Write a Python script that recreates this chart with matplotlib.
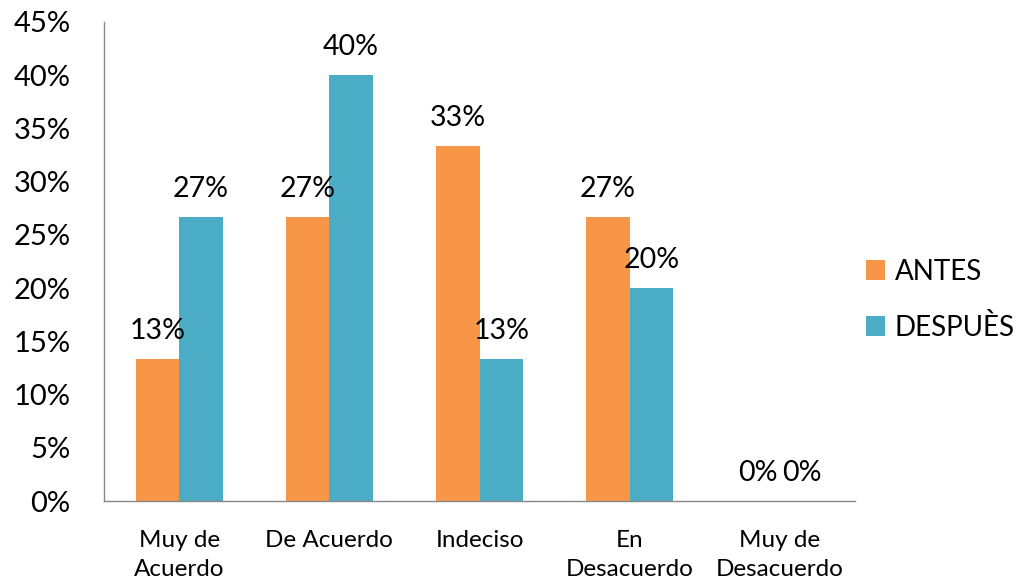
import numpy as np
import matplotlib.pyplot as plt

plt.rcParams['font.family'] = ['Lato', 'DejaVu Sans']

# Datos
categorias = ['Muy de\nAcuerdo', 'De Acuerdo', 'Indeciso', 'En\nDesacuerdo', 'Muy de\nDesacuerdo']
antes = [13.33, 26.67, 33.33, 26.67, 0.0]
despues = [26.67, 40.0, 13.33, 20.0, 0.0]
series = ['ANTES', 'DESPUÈS']
colores = ['#F79646', '#4BACC6']

fig = plt.figure(figsize=(10.34, 5.88), dpi=100)
ax = fig.add_axes([104 / 1034, 87 / 588, 751 / 1034, 479 / 588])

x = np.arange(len(categorias))
w = 0.29
b1 = ax.bar(x - w / 2, antes, w, color=colores[0], label=series[0])
b2 = ax.bar(x + w / 2, despues, w, color=colores[1], label=series[1])

# Etiquetas de datos
for barras, vals in [(b1, antes), (b2, despues)]:
    for b, v in zip(barras, vals):
        ax.annotate(f'{v:.0f}%', (b.get_x() + b.get_width() / 2, v),
                    xytext=(0, 11), textcoords='offset points',
                    ha='center', va='bottom', fontsize=20.5)

ax.set_xlim(-0.5, len(categorias) - 0.5)
ax.set_ylim(0, 45)
ax.set_yticks(np.arange(0, 46, 5))
ax.set_yticklabels([f'{t}%' for t in range(0, 46, 5)], fontsize=21)
ax.set_xticks(x)
ax.set_xticklabels(categorias, fontsize=17.5, linespacing=1.45)
ax.tick_params(axis='both', length=0)
ax.tick_params(axis='y', pad=24)
ax.tick_params(axis='x', pad=21)
ax.spines['top'].set_visible(False)
ax.spines['right'].set_visible(False)
for s in ['left', 'bottom']:
    ax.spines[s].set_color('#888888')
    ax.spines[s].set_linewidth(1)

ax.legend(loc='center left', bbox_to_anchor=(1.014, 0.42), frameon=False,
          fontsize=20, handlelength=0.7, handleheight=0.7, labelspacing=1.05,
          handletextpad=0.35, borderaxespad=0, borderpad=0)

fig.savefig('out.png', dpi=100)
